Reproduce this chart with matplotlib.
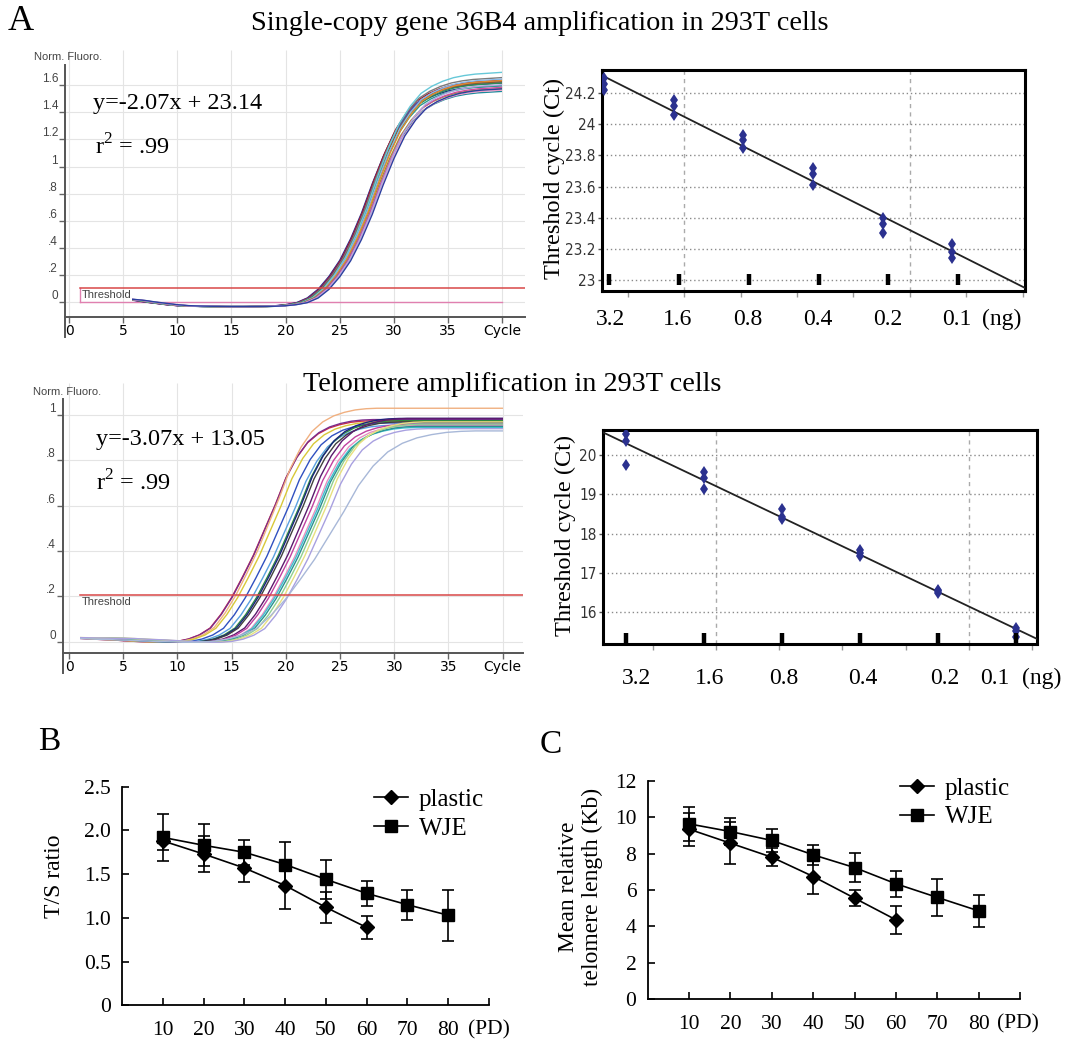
import numpy as np
import matplotlib
matplotlib.use("Agg")
import matplotlib.pyplot as plt
import matplotlib.transforms as mtransforms
import matplotlib.font_manager as fm
from matplotlib.patches import Rectangle
from matplotlib.lines import Line2D

plt.rcParams['mathtext.fontset'] = 'custom'
plt.rcParams['mathtext.rm'] = 'Liberation Serif'

SERIF = ['Liberation Serif', 'DejaVu Serif']
SANS = ['Liberation Sans', 'DejaVu Sans']

# look for an installed narrow / condensed sans face for the Ct tick labels
narrow_fp = None
for f in fm.fontManager.ttflist:
    nm = f.name
    st = str(f.stretch)
    if ('Mono' in nm) or ('Serif' in nm) or f.style != 'normal':
        continue
    if str(f.weight) not in ('400', 'normal', 'regular'):
        continue
    if ('Narrow' in nm or 'Condensed' in nm or
            st in ('condensed', 'semi-condensed', 'extra-condensed', '100', '200', '300', '400')):
        narrow_fp = f.fname
        break


def narrow_props(size):
    if narrow_fp is not None:
        return fm.FontProperties(fname=narrow_fp, size=size)
    return fm.FontProperties(family=SANS, size=size - 1.5)


# ---------------- data ----------------
# Panel A, amplification curves (Norm. Fluoro. vs cycle)
amp_top_cycles = np.arange(4, 42)
amp_top_base = [0.02, 0.02, 0.012, 0.0, -0.01, -0.02, -0.027, -0.03, -0.032, -0.033,
                -0.034, -0.034, -0.034, -0.033, -0.032, -0.028, -0.02, -0.005, 0.03, 0.095,
                0.19, 0.31, 0.47, 0.66, 0.88, 1.08, 1.25, 1.37, 1.46, 1.51,
                1.545, 1.57, 1.585, 1.595, 1.6, 1.605, 1.61, 1.612]
amp_top_shift = [0.0, 0.1, 0.15, 0.25, 0.3, 0.35, 0.4, 0.45, 0.5, 0.55, 0.6, 0.65, 0.7, 0.75, 0.85, 0.9, 1.0]
amp_top_plateau = [1.60, 1.62, 1.64, 1.63, 1.66, 1.63, 1.60, 1.62, 1.70, 1.65, 1.58, 1.64, 1.56, 1.59, 1.57, 1.61, 1.58]
amp_top_colors = ['#1f2a8a', '#6a2c91', '#a01c2c', '#3355cc', '#7a7a7a', '#8b5a2b', '#2a9d8f', '#2e8b57',
                  '#66c8d8', '#87b8e8', '#9a9a30', '#e08a30', '#1a8a9a', '#d04ca0', '#f0a0c8', '#b0a8e0', '#2b3f9f']
amp_top_threshold = 0.1

amp_mid_cycles = np.arange(-5, 41)
amp_mid_base = [0.02, 0.019, 0.018, 0.017, 0.016, 0.016,
                0.015, 0.012, 0.01, 0.008, 0.005, 0.002, 0.0, -0.002, -0.002, 0.002,
                0.012, 0.03, 0.06, 0.12, 0.195, 0.285, 0.38, 0.49, 0.6, 0.72,
                0.81, 0.875, 0.915, 0.94, 0.955, 0.965, 0.97,
                0.972, 0.972, 0.972, 0.972, 0.972, 0.972, 0.972, 0.972, 0.972, 0.972, 0.972, 0.972, 0.972]
amp_mid_shift = [0.0, 0.05, 0.4, 0.55, 1.25, 1.85, 2.3, 2.45, 2.6, 3.2, 3.4, 3.8, 3.9, 4.1, 4.4, 4.75, 5.05, 5.0]
amp_mid_plateau = [0.975, 0.98, 1.03, 0.97, 0.965, 0.955, 0.975, 0.985, 0.97, 0.985, 0.96, 0.955,
                   0.945, 0.95, 0.96, 0.97, 0.94, 0.93]
amp_mid_stretch = [1, 1, 1, 1, 1, 1, 1, 1, 1, 1, 1, 1, 1, 1, 1, 1, 1, 1.35]
amp_mid_colors = ['#d03040', '#7b2d8e', '#f0b080', '#d8c838', '#3050c0', '#5aa0e0', '#2e8b3e', '#1a237e',
                  '#404040', '#5b1a6e', '#c040a0', '#e890c0', '#40c0d0', '#2a9090', '#90d090', '#e8e080',
                  '#a8a0e0', '#a8b8d8']
amp_mid_threshold = 0.206

# Panel A, standard curves
dilution_labels = ['3.2', '1.6', '0.8', '0.4', '0.2', '0.1']
dilution_pos = [0, 1, 2, 3, 4, 5]
ct_36b4 = [[24.30, 24.26, 24.22], [24.16, 24.12, 24.06], [23.93, 23.90, 23.85],
           [23.72, 23.68, 23.61], [23.40, 23.36, 23.30], [23.23, 23.18, 23.14]]
ct_telo = [[20.53, 20.36, 19.76], [19.58, 19.41, 19.13], [18.64, 18.43, 18.37],
           [17.58, 17.50, 17.42], [16.57, 16.53, 16.50], [15.61, 15.51, 15.38]]

# Panel B / C
pd_vals = [10, 20, 30, 40, 50, 60, 70, 80]
ts_plastic = [1.88, 1.73, 1.57, 1.37, 1.12, 0.89]
ts_plastic_err = [0.10, 0.21, 0.16, 0.27, 0.18, 0.13]
ts_wje = [1.92, 1.83, 1.75, 1.61, 1.44, 1.28, 1.15, 1.03]
ts_wje_err = [0.27, 0.24, 0.14, 0.26, 0.22, 0.14, 0.17, 0.29]
tl_plastic = [9.34, 8.57, 7.80, 6.74, 5.55, 4.36]
tl_plastic_err = [0.90, 1.15, 0.50, 0.97, 0.45, 0.78]
tl_wje = [9.63, 9.21, 8.72, 7.93, 7.23, 6.34, 5.59, 4.85]
tl_wje_err = [0.95, 0.74, 0.62, 0.55, 0.80, 0.70, 1.00, 0.88]

# ---------------- figure ----------------
W, H = 1074, 1042
fig = plt.figure(figsize=(W / 100, H / 100), dpi=100)


def add_ax(l, t, r, b):
    return fig.add_axes([l / W, 1 - b / H, (r - l) / W, (b - t) / H])


def ftext(x, y, s, **kw):
    return fig.text(x / W, 1 - y / H, s, **kw)


def setup_amp(ax, xlim, ylim, xaxis_y, spine_top, yticks, ylabels):
    xt = list(range(0, 41, 5))
    ax.set_xticks(xt)
    ax.set_xticklabels([str(v) for v in xt[:-1]] + ['Cycle'], ha='left',
                       fontfamily=SANS, fontsize=8.5, color='#444444')
    ax.set_yticks(yticks)
    ax.set_yticklabels(ylabels, va='bottom', fontfamily=SANS, fontsize=8.5, color='#444444')
    ax.set_xlim(*xlim)
    ax.set_ylim(*ylim)
    ax.patch.set_visible(False)
    for s in ('top', 'right'):
        ax.spines[s].set_visible(False)
    ax.spines['bottom'].set_position(('data', xaxis_y))
    ax.spines['left'].set_bounds(ylim[0], spine_top)
    for s in ('left', 'bottom'):
        ax.spines[s].set_color('#555555')
        ax.spines[s].set_linewidth(1.4)
    ax.tick_params(axis='both', direction='out', length=4, width=1, color='#666666', pad=1)
    ax.hlines(yticks, xlim[0], xlim[1], color='#e4e4e4', lw=0.8, zorder=0)
    ax.vlines(xt, xaxis_y, ylim[1], color='#e4e4e4', lw=0.8, zorder=0)


def draw_curves(ax, cyc, base, shifts, plats, stretches, colors, ct0, x0, x1):
    base = np.asarray(base, dtype=float)
    top = base.max()
    for sh, pl, st, c in zip(shifts, plats, stretches, colors):
        x = ct0 + (cyc - ct0) * st + sh
        y = base * pl / top
        ln, = ax.plot(x, y, color=c, lw=1.0, zorder=2)
        clip = Rectangle((x0, -10), x1 - x0, 20, transform=ax.transData,
                         facecolor='none', edgecolor='none')
        ln.set_clip_path(clip)


# ---- A top-left ----
ax1 = add_ax(65, 50, 525, 336.7)
xl1 = (-0.37, 42.1)
yl1 = (-0.256, 1.86)
setup_amp(ax1, xl1, yl1, -0.108, 1.75, [0, .2, .4, .6, .8, 1, 1.2, 1.4, 1.6],
          ['0', '.2', '.4', '.6', '.8', '1', '1.2', '1.4', '1.6'])
draw_curves(ax1, amp_top_cycles, amp_top_base, amp_top_shift, amp_top_plateau,
            [1] * len(amp_top_shift), amp_top_colors, 22.9, 5.8, 40)
ax1.plot([1, xl1[1]], [amp_top_threshold] * 2, color='#d84848', lw=1.1, zorder=3)
ax1.plot([1, 40], [0, 0], color='#e080b0', lw=1.0, zorder=1)
ax1.plot([1, 1], [0, amp_top_threshold], color='#e080b0', lw=1.0, zorder=1)
ax1.text(1.2, 0.055, 'Threshold', fontfamily=SANS, fontsize=8, color='#444444', va='center', ha='left')

# ---- A middle-left ----
ax3 = add_ax(63, 383.3, 522.7, 673.3)
xl3 = (-0.56, 41.85)
yl3 = (-0.139, 1.14)
setup_amp(ax3, xl3, yl3, -0.051, 1.07, [0, .2, .4, .6, .8, 1],
          ['0', '.2', '.4', '.6', '.8', '1'])
draw_curves(ax3, amp_mid_cycles, amp_mid_base, amp_mid_shift, amp_mid_plateau,
            amp_mid_stretch, amp_mid_colors, 15.15, 1, 40)
ax3.plot([1, xl3[1]], [amp_mid_threshold] * 2, color='#d84848', lw=1.1, zorder=3)
ax3.text(1.2, 0.176, 'Threshold', fontfamily=SANS, fontsize=8, color='#444444', va='center', ha='left')

ftext(34, 57, 'Norm. Fluoro.', fontfamily=SANS, fontsize=8, color='#444444', va='center', ha='left')
ftext(33, 392, 'Norm. Fluoro.', fontfamily=SANS, fontsize=8, color='#444444', va='center', ha='left')


# ---- standard curves ----
def setup_std(ax, xlim, ylim, yticks, ylabels, cts, bar_lo, bar_hi, bar_dx, lab_dx, ng_dx, lab_y):
    soft = [0.34 + 0.81 * k for k in range(8)]
    ax.set_xticks(soft)
    ax.set_xticklabels([])
    ax.set_yticks(yticks)
    ax.set_yticklabels(ylabels, fontproperties=narrow_props(11), color='#333333')
    ax.set_xlim(*xlim)
    ax.set_ylim(*ylim)
    for s in ax.spines.values():
        s.set_linewidth(2.2)
        s.set_color('black')
    ax.tick_params(axis='y', direction='out', length=3, width=1, color='#555555', pad=1.5)
    ax.tick_params(axis='x', direction='out', length=4, width=1, color='#999999')
    ax.yaxis.grid(True, linestyle=(0, (1, 2)), color='#8a8a8a', lw=1)
    for k in (1, 5):
        ax.axvline(soft[k], color='#aaaaaa', lw=1, dashes=(3, 3), zorder=0)
    xs = np.repeat(dilution_pos, 3)
    ys = np.asarray(cts).ravel()
    slope, icpt = np.polyfit(xs, ys, 1)
    lx = np.array(xlim)
    ax.plot(lx, icpt + slope * lx, color='#222222', lw=1.3, zorder=3)
    ax.plot(xs, ys, 'd', color='#2b318f', ms=6, mew=0, zorder=4)
    ax.vlines(np.array(dilution_pos) + bar_dx, bar_lo, bar_hi, color='black', lw=3.2, zorder=4)
    for xi, lab, dx in zip(dilution_pos, dilution_labels, lab_dx):
        tr = mtransforms.offset_copy(ax.get_xaxis_transform(), fig=fig, x=dx, y=-lab_y, units='dots')
        ax.text(xi, 0, lab, transform=tr, ha='center', va='center', fontfamily=SERIF, fontsize=17)
    tr = mtransforms.offset_copy(ax.get_xaxis_transform(), fig=fig, x=ng_dx, y=-lab_y, units='dots')
    ax.text(dilution_pos[-1], 0, '(ng)', transform=tr, ha='left', va='center', fontfamily=SERIF, fontsize=17)
    ax.set_xlim(*xlim)
    ax.set_ylim(*ylim)


ax2 = add_ax(601.8, 70, 1025, 290.7)
setup_std(ax2, (-0.03, 6.04), (22.93, 24.35), [23, 23.2, 23.4, 23.6, 23.8, 24, 24.2],
          ['23', '23.2', '23.4', '23.6', '23.8', '24', '24.2'], ct_36b4,
          22.965, 23.035, 0.08, [7, 4, 4, 5, 5, 4], 30, 29)
ax4 = add_ax(602.9, 430, 1036.6, 644)
setup_std(ax4, (-0.30, 5.26), (15.19, 20.64), [16, 17, 18, 19, 20],
          ['16', '17', '18', '19', '20'], ct_telo,
          15.19, 15.47, 0.0, [10, 5, 1, 3, 6, -22], 6, 34)
ftext(554.5, 178, 'Threshold cycle (Ct)', fontfamily=SERIF, fontsize=17.5, rotation=90, ha='center', va='center')
ftext(565, 535, 'Threshold cycle (Ct)', fontfamily=SERIF, fontsize=17.5, rotation=90, ha='center', va='center')

# ---- equations and titles ----
ftext(93, 103, 'y=-2.07x + 23.14', fontfamily=SERIF, fontsize=17.5, ha='left', va='center')
ftext(95, 147, 'r$^\\mathrm{2}$ = .99', fontfamily=SERIF, fontsize=17.5, ha='left', va='center')
ftext(96, 440, 'y=-3.07x + 13.05', fontfamily=SERIF, fontsize=17.5, ha='left', va='center')
ftext(96, 483, 'r$^\\mathrm{2}$ = .99', fontfamily=SERIF, fontsize=17.5, ha='left', va='center')
ftext(540, 23, 'Single-copy gene 36B4 amplification in 293T cells', fontfamily=SERIF, fontsize=20.3,
      ha='center', va='center')
ftext(512, 385, 'Telomere amplification in 293T cells', fontfamily=SERIF, fontsize=20.3,
      ha='center', va='center')
ftext(8, 21, 'A', fontfamily=SERIF, fontsize=26, ha='left', va='center')
ftext(38, 742, 'B', fontfamily=SERIF, fontsize=24, ha='left', va='center')
ftext(540, 745, 'C', fontfamily=SERIF, fontsize=24, ha='left', va='center')


# ---- B and C ----
def setup_growth(ax, ylim, yticks, ylabels, pd_dx):
    ax.set_xlim(0, 90)
    ax.set_ylim(*ylim)
    for s in ('top', 'right'):
        ax.spines[s].set_visible(False)
    for s in ('left', 'bottom'):
        ax.spines[s].set_linewidth(1.3)
    ax.set_xticks(list(range(10, 91, 10)))
    ax.set_xticklabels([str(v) for v in pd_vals] + [''], fontfamily=SERIF, fontsize=15.5)
    ax.set_yticks(yticks)
    ax.set_yticklabels(ylabels, fontfamily=SERIF, fontsize=15.5)
    ax.tick_params(axis='x', direction='in', length=5, width=1.2, pad=11)
    ax.tick_params(axis='y', direction='in', length=5, width=1.2, pad=8)
    tr = mtransforms.offset_copy(ax.get_xaxis_transform(), fig=fig, x=pd_dx, y=-11, units='points')
    ax.text(80, 0, '(PD)', transform=tr, ha='left', va='top', fontfamily=SERIF, fontsize=15.5)


def draw_growth(ax, pl, ple, wj, wje):
    ax.errorbar(pd_vals[:len(pl)], pl, yerr=ple, fmt='-D', color='black', ms=7, lw=1.2,
                elinewidth=1.2, capsize=4, capthick=1.2, zorder=3)
    ax.errorbar(pd_vals, wj, yerr=wje, fmt='-s', color='black', ms=9, lw=1.2,
                elinewidth=1.2, capsize=4, capthick=1.2, zorder=3)


def add_legend(ax, x_px, top_px):
    handles = [Line2D([], [], color='black', marker='D', ms=7, lw=1.2),
               Line2D([], [], color='black', marker='s', ms=9, lw=1.2)]
    ax.legend(handles, ['plastic', 'WJE'], loc='upper left', bbox_to_anchor=(x_px / W, 1 - top_px / H),
              bbox_transform=fig.transFigure, frameon=False, borderpad=0, borderaxespad=0,
              handlelength=1.38, handletextpad=0.42, labelspacing=0.25, numpoints=1,
              prop={'family': SERIF, 'size': 18})


axB = add_ax(122.1, 786.7, 489, 1005.3)
setup_growth(axB, (0, 2.5), [0, 0.5, 1.0, 1.5, 2.0, 2.5], ['0', '0.5', '1.0', '1.5', '2.0', '2.5'], 14)
draw_growth(axB, ts_plastic, ts_plastic_err, ts_wje, ts_wje_err)
add_legend(axB, 373.6, 788.5)
ftext(55, 876.7, 'T/S ratio', fontfamily=SERIF, fontsize=17, rotation=90, ha='center', va='center')

axC = add_ax(647.6, 780.7, 1020.3, 999.3)
setup_growth(axC, (0, 12), [0, 2, 4, 6, 8, 10, 12], ['0', '2', '4', '6', '8', '10', '12'], 13)
draw_growth(axC, tl_plastic, tl_plastic_err, tl_wje, tl_wje_err)
add_legend(axC, 899.5, 777)
ftext(568.2, 886.7, 'Mean relative', fontfamily=SERIF, fontsize=17, rotation=90, ha='center', va='center')
ftext(592.5, 886.7, 'telomere length (Kb)', fontfamily=SERIF, fontsize=17, rotation=90, ha='center', va='center')

fig.savefig('out.png', dpi=100)
